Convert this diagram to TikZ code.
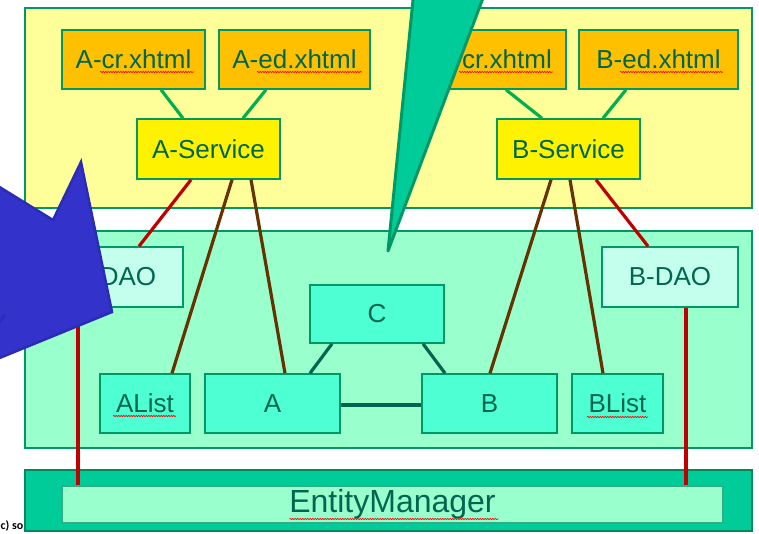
\documentclass[tikz,border=0pt]{standalone}
\usepackage{fontspec}
\setmainfont{Liberation Sans}
\newfontfamily\notefont{Carlito}
\usetikzlibrary{calc, positioning, decorations.pathmorphing}

\definecolor{txtgreen}{HTML}{006650}
\definecolor{frame}{HTML}{009966}
\definecolor{paleyellow}{HTML}{FFFF99}
\definecolor{orangebox}{HTML}{FFC000}
\definecolor{mint}{HTML}{99FFCC}
\definecolor{palemint}{HTML}{C4FFEE}
\definecolor{aqua}{HTML}{4DFFD2}
\definecolor{emerald}{HTML}{00CC99}
\definecolor{linkgreen}{HTML}{00B050}
\definecolor{linkred}{HTML}{C00000}
\definecolor{linkbrown}{HTML}{663300}
\definecolor{linkteal}{HTML}{006650}
\definecolor{calloutblue}{HTML}{3333CC}
\definecolor{blueedge}{HTML}{2B2BB5}

\tikzstyle{layer} = [draw=frame, line width=1.5pt]
\tikzstyle{box} = [draw=frame, line width=1.5pt, text=txtgreen, inner sep=0pt, font=\fontsize{26}{30}\selectfont]
\tikzstyle{page} = [box, fill=orangebox, minimum height=59pt]
\tikzstyle{service} = [box, fill=yellow, minimum width=143pt, minimum height=60pt]
\tikzstyle{dao} = [box, fill=palemint, minimum width=136pt, minimum height=60pt]
\tikzstyle{entity} = [box, fill=aqua, minimum height=59pt]
\tikzstyle{link} = [line width=3.2pt]
\tikzstyle{spell} = [draw=red, line width=0.6pt, decorate, decoration={snake, amplitude=0.7pt, segment length=2.5pt}]

\begin{document}
\begin{tikzpicture}[x=1pt, y=-1pt]
\useasboundingbox (0,0) rectangle (759,533);

% copyright note, mostly hidden
\node[anchor=base west, inner sep=0pt, font=\notefont\bfseries\fontsize{12}{13}\selectfont] (note) at (0.5,529) {c) so};

% Draw layers
\draw[layer, fill=paleyellow] (25,8) rectangle (752,208);
\draw[layer, fill=mint] (25,231) rectangle (752,448);
\draw[layer, draw=frame!90!black, fill=emerald] (25,470) rectangle (752,531);

% Pages
\foreach \name/\x/\w/\txt in {acr/133.5/143/A-cr.xhtml,
                              aed/294.5/151/A-ed.xhtml,
                              bcr/494/144/B-cr.xhtml,
                              bed/658.5/159/B-ed.xhtml}
    \node[page, minimum width=\w pt] (\name) at (\x,59.5) {\txt};

% Services
\node[service] (asrv) at (208.5,149) {A-Service};
\node[service] (bsrv) at (568.5,149) {B-Service};

% DAOs
\node[dao] (adao) at (115,277) {A-DAO};
\node[dao] (bdao) at (670,277) {B-DAO};

% Entities
\foreach \name/\x/\y/\w/\h/\txt in {c/377/314/134/58/C,
                                     a/272.5/403.5/135/59/A,
                                     b/489.5/403.5/135/59/B,
                                     alist/145/403.5/90/59/AList,
                                     blist/617.5/403.5/91/59/BList}
    \node[entity, minimum width=\w pt, minimum height=\h pt] (\name) at (\x,\y) {\txt};

% EntityManager
\node[box, fill=mint, draw=frame!80, minimum width=661pt, minimum height=37pt,
      font=\fontsize{32}{36}\selectfont] (em) at (392.5,504.5) {EntityManager};

% Pages to services
\foreach \from/\fx/\to/\tx in {acr/27.5/asrv/-25.5, aed/-28.5/asrv/34.5,
                               bcr/12/bsrv/-26.5, bed/-32.5/bsrv/34.5}
    \draw[link, linkgreen] ([xshift=\fx pt]\from.south) -- ([xshift=\tx pt]\to.north);

% Services to DAOs
\draw[link, linkred] ([xshift=-17.5pt]asrv.south) -- ([xshift=24pt]adao.north);
\draw[link, linkred] ([xshift=27.5pt]bsrv.south) -- ([xshift=-22pt]bdao.north);

% Services to entities
\foreach \from/\fx/\to/\tx in {asrv/23.5/alist/27, asrv/42.5/a/12.5,
                               bsrv/-17.5/b/0.5, bsrv/1.5/blist/-14.5}
    \draw[link, linkbrown] ([xshift=\fx pt]\from.south) -- ([xshift=\tx pt]\to.north);

% Entities among each other
\draw[link, linkteal] ([xshift=-45pt]c.south) -- ([xshift=37.5pt]a.north);
\draw[link, linkteal] ([xshift=46pt]c.south) -- ([xshift=-44.5pt]b.north);
\draw[link, linkteal] ([yshift=-1.5pt]a.east) -- ([yshift=-1.5pt]b.west);

% DAOs to EntityManager
\draw[link, linkred] ([xshift=-37pt]adao.south) -- ([xshift=-37pt]adao.south |- em.north);
\draw[link, linkred] ([xshift=16pt]bdao.south) -- ([xshift=16pt]bdao.south |- em.north);

% Spelling marks
\foreach \name/\l/\r/\d in {acr/-33.5/60.5/12.5, aed/-37.5/67.5/12.5,
                            bcr/-35/59/12.5, bed/-38.5/64.5/12.5,
                            alist/-32/31/12.5, blist/-30.5/30.5/13.5,
                            em/-103/106/14.5}
    \draw[spell] ([xshift=\l pt, yshift=-\d pt]\name.center) -- ([xshift=\r pt, yshift=-\d pt]\name.center);

% Callouts
\draw[draw=frame, fill=emerald, line width=3pt, line join=round] (414,-10) -- (388,251) -- (486,-10);
\draw[draw=blueedge, fill=calloutblue, line width=2.5pt, line join=miter]
    (-20,175) -- (53,220) -- (81,162) -- (112,312) -- (-20,366);
\draw[blueedge, line width=2pt] (5,315) -- (-5,329);

\end{tikzpicture}
\end{document}
